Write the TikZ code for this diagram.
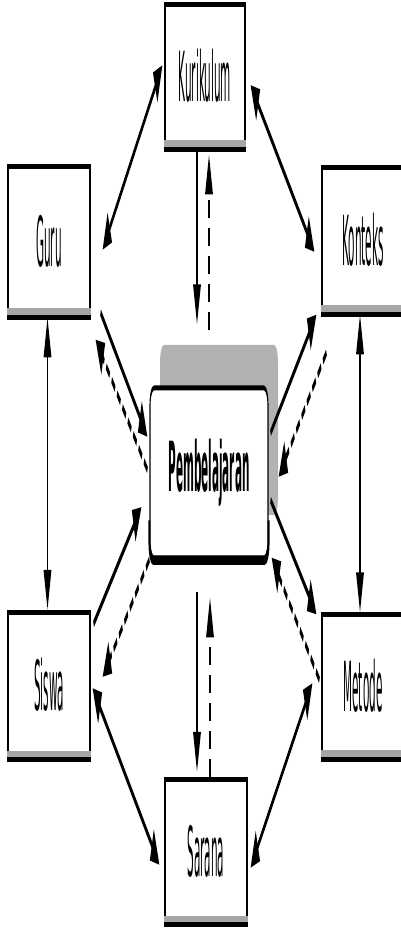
\documentclass[tikz,border=0pt]{standalone}
\usepackage{fontspec}
\usepackage{graphicx}
\setmainfont{DejaVu Sans}
\usetikzlibrary{arrows.meta,calc}
\newcommand{\tall}[1]{\scalebox{0.95}[1.38]{#1}}
\tikzset{
  blk/.style={draw, line width=5pt, fill=white, inner sep=0pt,
    minimum width=372.7pt, minimum height=#1,
    font=\fontsize{50}{60}\selectfont},
  pemb/.style={blk=#1, rounded corners=18pt, minimum width=536.4pt, font=\fontsize{50}{60}\selectfont\bfseries},
  tipA/.tip={Triangle[length=40pt,width=34pt]},
  con/.style={line width=7pt, tipA-tipA},
  one/.style={line width=7pt, -tipA},
  dsh/.style={one, dash pattern=on 18pt off 10pt},
  shade/.style={fill=black!35},
  shadow/.style={fill=black!30, rounded corners=18pt}
}
\newcommand{\boxdeco}[1]{%
  \fill[shade] ($(#1.south west)+(0,-9)$) rectangle (#1.south east);
  \draw[line width=5pt] (#1.south west) -- (#1.south east);}
\begin{document}
\begin{tikzpicture}
\useasboundingbox (0,0) rectangle (400pt,928pt);
\fill[white] (0,0) rectangle (400pt,928pt);
\begin{scope}[transform canvas={xscale=0.22}, x=4.54545pt, y=-1pt, shift={(0pt,928pt)}]
  % shadow of the central box
  \fill[shadow] (160,345) rectangle (278,515);
  % nodes
  \node[blk=142pt, minimum width=363.6pt] (kur) at (205,76) {\tall{Kurikulum}};
  \node[blk=148pt] (guru) at (49,241) {\tall{Guru}};
  \node[blk=144pt] (kon) at (363,240) {\tall{Konteks}};
  \node[pemb=170pt] (pem) at (209,473) {\tall{Pembelajaran}};
  \node[blk=145pt] (sis) at (49,685) {\tall{Siswa}};
  \node[blk=142pt] (met) at (363,686) {\tall{Metode}};
  \node[blk=143pt] (sar) at (206,851) {\tall{Sarana}};
  \boxdeco{kur}\boxdeco{guru}\boxdeco{kon}\boxdeco{sis}\boxdeco{met}\boxdeco{sar}
  \draw[line width=9pt, rounded corners=18pt] ($(pem.south west)+(0,-40)$) -- (pem.south west) -- (pem.south east) -- ($(pem.south east)+(0,-40)$);
  % outer ring
  \draw[con] ($(kur.west)+(-2,-11)$) -- ($(guru.east)+(12,9)$);
  \draw[con] ($(kur.east)+(5,9)$) -- ($(kon.west)+(-7,12)$);
  \draw[con] ($(guru.south)+(-1.5,0)$) -- ($(sis.north)+(-1.5,0)$);
  \draw[con] ($(kon.south)+(-3,0)$) -- ($(met.north)+(-3,0)$);
  \draw[con] ($(sis.east)+(2,3)$) -- ($(sar.west)+(-5,14)$);
  \draw[con] ($(met.west)+(-9,-3)$) -- ($(sar.east)+(3,17)$);
  % to and from the centre
  \draw[one] ($(kur.south)+(-8,0)$) -- ($(pem.north)+(-12,-61)$);
  \draw[dsh] ($(pem.north)+(0,-55)$) -- ($(kur.south)+(4,5)$);
  \draw[one] ($(guru.south east)+(10,-5)$) -- ($(pem.west)+(-2,-36)$);
  \draw[dsh] ($(pem.west)+(-2,-3)$) -- ($(guru.south east)+(5,22)$);
  \draw[one] ($(pem.east)+(2,-40)$) -- ($(kon.south west)+(-5,0)$);
  \draw[dsh] ($(kon.south west)+(5,38)$) -- ($(pem.east)+(10,4)$);
  \draw[one] ($(pem.east)+(2,27)$) -- ($(met.north west)+(-5,2)$);
  \draw[dsh] ($(met.west)+(-2,-6)$) -- ($(pem.south east)+(3,-3)$);
  \draw[one] ($(sis.north east)+(3,14)$) -- ($(pem.west)+(-8,34)$);
  \draw[dsh] ($(pem.south west)+(0,-1)$) -- ($(sis.east)+(12,-8)$);
  \draw[one] ($(pem.south)+(-12,32)$) -- ($(sar.north)+(-9,-5)$);
  \draw[dsh] ($(sar.north)+(4,0)$) -- ($(pem.south)+(1,37)$);
\end{scope}
\end{tikzpicture}
\end{document}
